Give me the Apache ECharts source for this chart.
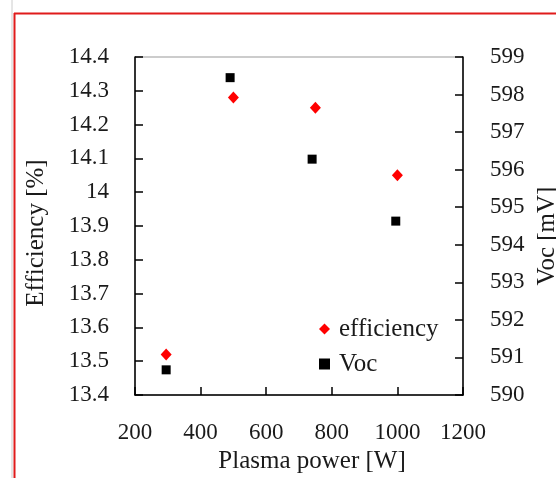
<!DOCTYPE html>
<html>
<head>
<meta charset="utf-8">
<script src="https://cdn.jsdelivr.net/npm/echarts@6/dist/echarts.min.js"></script>
<style>
  html, body { margin: 0; padding: 0; background: #fff; }
  #chart { width: 556px; height: 478px; }
</style>
</head>
<body>
<div id="chart"></div>
<script>
// 数据：读自原图
const effPower = [295, 500, 750, 1000];
const efficiency = [13.52, 14.28, 14.25, 14.05];
const vocPower = [295, 490, 740, 995];
const voc = [590.67, 598.45, 596.28, 594.63];

const xTicks = { min: 200, max: 1200, step: 200 };
const effTicks = { min: 13.4, max: 14.4, step: 0.1 };
const vocTicks = { min: 590, max: 599, step: 1 };

const FONT = '"Liberation Serif", "DejaVu Serif", serif';
const labelStyle = { fontFamily: FONT, fontSize: 23, color: '#1a1a1a' };

let myChart = echarts.init(document.getElementById('chart'));

let axisBase = {
    splitLine: { show: false },
    axisLine: { show: true, onZero: false, lineStyle: { color: '#000', width: 1.5 } },
    axisTick: { show: true, inside: true, length: 8, lineStyle: { color: '#000', width: 1.5 } }
};
let nameFont = { fontFamily: FONT, fontSize: 25, color: '#1a1a1a' };

let option = {
    animation: false,
    backgroundColor: '#fff',
    grid: {
        left: 135, right: 93, top: 57, bottom: 83,
        outerBoundsMode: 'none',
        show: true, borderColor: '#999', borderWidth: 1, backgroundColor: 'transparent'
    },
    legend: {
        orient: 'vertical',
        left: 314, top: 311,
        itemWidth: 11, itemHeight: 11,
        itemGap: 9,
        textStyle: { fontFamily: FONT, fontSize: 25, color: '#1a1a1a', lineHeight: 26, padding: [0, 0, 0, 4] },
        data: [
            { name: 'efficiency', icon: 'diamond' },
            { name: 'Voc', icon: 'rect' }
        ]
    },
    xAxis: Object.assign({}, axisBase, {
        type: 'value',
        min: xTicks.min, max: xTicks.max, interval: xTicks.step,
        name: 'Plasma power [W]',
        nameLocation: 'middle', nameGap: 52,
        nameTextStyle: Object.assign({ padding: [0, 0, 0, 26] }, nameFont),
        axisLabel: Object.assign({ margin: 26, formatter: v => String(v) }, labelStyle)
    }),
    yAxis: [
        Object.assign({}, axisBase, {
            type: 'value',
            min: effTicks.min, max: effTicks.max, interval: effTicks.step,
            name: 'Efficiency [%]',
            nameLocation: 'middle', nameGap: 86,
            nameTextStyle: Object.assign({ padding: [0, 14, 0, 0] }, nameFont),
            axisLabel: Object.assign({
                margin: 26,
                formatter: v => String(Math.round(v * 10) / 10)
            }, labelStyle)
        }),
        Object.assign({}, axisBase, {
            type: 'value', position: 'right',
            min: vocTicks.min, max: vocTicks.max, interval: vocTicks.step,
            name: 'Voc [mV]',
            nameLocation: 'middle', nameGap: 72, nameRotate: 90,
            nameTextStyle: Object.assign({ padding: [0, 20, 0, 0] }, nameFont),
            axisLabel: Object.assign({ margin: 27, formatter: v => String(v) }, labelStyle)
        })
    ],
    series: [
        {
            name: 'efficiency', type: 'scatter', yAxisIndex: 0,
            symbol: 'diamond', symbolSize: [11, 12],
            itemStyle: { color: '#ff0000', opacity: 1 },
            data: effPower.map((p, i) => [p, efficiency[i]])
        },
        {
            name: 'Voc', type: 'scatter', yAxisIndex: 1,
            symbol: 'rect', symbolSize: 9,
            itemStyle: { color: '#000', opacity: 1 },
            data: vocPower.map((p, i) => [p, voc[i]])
        }
    ],
    // 外框红线（原图截取时留下的边框）
    graphic: [
        { type: 'line', shape: { x1: 12, y1: 0, x2: 12, y2: 478 }, style: { stroke: '#ccc', lineWidth: 1 } },
        { type: 'line', shape: { x1: 14.5, y1: 13, x2: 14.5, y2: 478 }, style: { stroke: '#e01b1b', lineWidth: 2 } },
        { type: 'line', shape: { x1: 14, y1: 13.5, x2: 556, y2: 13.5 }, style: { stroke: '#e01b1b', lineWidth: 2 } }
    ]
};
myChart.setOption(option);
</script>
</body>
</html>
